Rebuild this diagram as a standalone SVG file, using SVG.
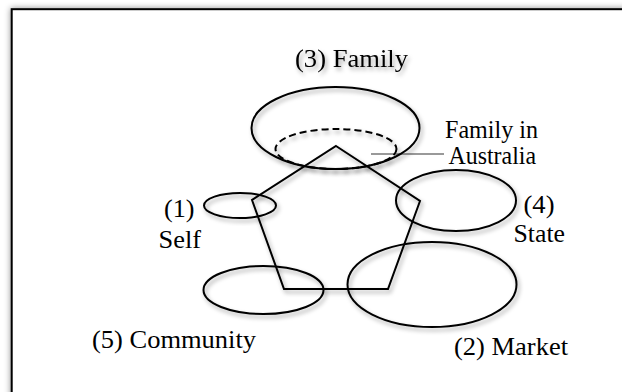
<svg xmlns="http://www.w3.org/2000/svg" width="622" height="392" viewBox="0 0 622 392">
<defs>
<filter id="sh" x="-20%" y="-20%" width="150%" height="150%">
<feDropShadow dx="2" dy="3" stdDeviation="2" flood-color="#000" flood-opacity="0.35"/>
</filter>
<filter id="fsh" x="-5%" y="-5%" width="110%" height="110%">
<feDropShadow dx="0" dy="0" stdDeviation="3" flood-color="#000" flood-opacity="0.45"/>
</filter>
</defs>
<style>
.s{fill:none;stroke:#000;stroke-width:2}
.d{fill:none;stroke:#000;stroke-width:2;stroke-dasharray:7 4}
.t{font-family:"Liberation Serif","Times New Roman",serif;font-size:26px;fill:#000}
</style>
<rect width="622" height="392" fill="#fff"/>
<rect id="frame" x="11.7" y="9.2" width="640" height="420" fill="#fff" stroke="#000" stroke-width="2" filter="url(#fsh)"/>
<g id="connectors">
<line x1="371" y1="154" x2="444" y2="154" stroke="#777" stroke-width="1.4"/>
</g>
<g id="pentagon" filter="url(#sh)">
<polygon class="s" points="336,146 420,201 388,289 284,289 252,200" stroke-linejoin="miter"/>
</g>
<g id="family" filter="url(#sh)">
<ellipse class="s" cx="335.5" cy="128" rx="84" ry="41"/>
<text class="t" x="295" y="67" textLength="113" lengthAdjust="spacingAndGlyphs">(3) Family</text>
</g>
<g id="family-australia" filter="url(#sh)">
<ellipse class="d" cx="336" cy="149" rx="60.5" ry="20"/>
</g>
<g id="family-australia-label">
<text class="t" x="445" y="137.5" textLength="93" lengthAdjust="spacingAndGlyphs">Family in</text>
<text class="t" x="448.5" y="164" textLength="87.5" lengthAdjust="spacingAndGlyphs">Australia</text>
</g>
<g id="self">
<ellipse class="s" cx="240" cy="205.5" rx="36" ry="12.5" filter="url(#sh)"/>
<text class="t" x="164" y="217" textLength="30.5" lengthAdjust="spacingAndGlyphs">(1)</text>
<text class="t" x="158.5" y="248" textLength="42.5" lengthAdjust="spacingAndGlyphs">Self</text>
</g>
<g id="state">
<ellipse class="s" cx="456" cy="200.5" rx="60" ry="30.5" filter="url(#sh)"/>
<text class="t" x="523.5" y="213" textLength="31" lengthAdjust="spacingAndGlyphs">(4)</text>
<text class="t" x="513.5" y="241.5" textLength="51.5" lengthAdjust="spacingAndGlyphs">State</text>
</g>
<g id="market">
<ellipse class="s" cx="432" cy="284.5" rx="84.5" ry="42.5" filter="url(#sh)"/>
<text class="t" x="454" y="354.5" textLength="114" lengthAdjust="spacingAndGlyphs">(2) Market</text>
</g>
<g id="community">
<ellipse class="s" cx="263.5" cy="290" rx="60" ry="24" filter="url(#sh)"/>
<text class="t" x="92" y="347.5" textLength="164" lengthAdjust="spacingAndGlyphs">(5) Community</text>
</g>
</svg>
